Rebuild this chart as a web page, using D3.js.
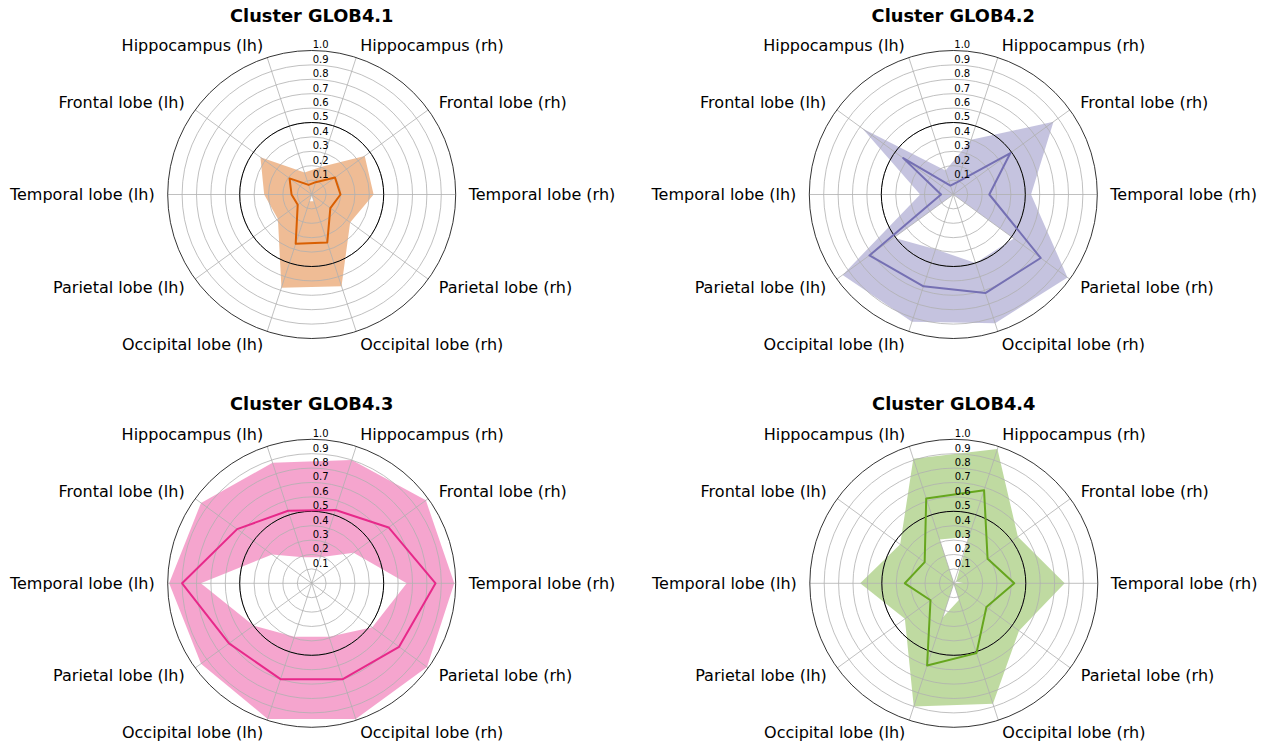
<!DOCTYPE html>
<html>
<head>
<meta charset="utf-8">
<script src="https://cdn.jsdelivr.net/npm/d3@7"></script>
<style>
  body { margin: 0; background: #fff; }
  text { font-family: "DejaVu Sans", sans-serif; fill: #000; }
</style>
</head>
<body>
<svg id="chart" width="1271" height="744"></svg>
<script>
// Brain regions, in counter-clockwise order starting at 3 o'clock
const regions = [
  "Temporal lobe (rh)", "Frontal lobe (rh)", "Hippocampus (rh)", "Hippocampus (lh)",
  "Frontal lobe (lh)", "Temporal lobe (lh)", "Parietal lobe (lh)", "Occipital lobe (lh)",
  "Occipital lobe (rh)", "Parietal lobe (rh)"
];
const radialTicks = [0.1, 0.2, 0.3, 0.4, 0.5, 0.6, 0.7, 0.8, 0.9, 1.0];
const clusterNames = ["Cluster GLOB4.1", "Cluster GLOB4.2", "Cluster GLOB4.3", "Cluster GLOB4.4"];
const clusterColors = ["#d95f02", "#7570b3", "#e7298a", "#66a61e"];

// Per-cluster median profile and lower / upper band
const median41 = [0.20, 0.20, 0.09, 0.07, 0.19, 0.14, 0.12, 0.36, 0.35, 0.16];
const upper41  = [0.43, 0.455, 0.20, 0.16, 0.44, 0.33, 0.29, 0.68, 0.67, 0.33];
const lower41  = [0, 0, 0, 0, 0, 0, 0, 0.05, 0.05, 0];

const median42 = [0.25, 0.49, 0.09, 0.065, 0.43, 0.085, 0.72, 0.67, 0.72, 0.75];
const upper42  = [0.54, 0.86, 0.40, 0.175, 0.78, 0.23, 0.95, 0.93, 0.94, 0.98];
const lower42  = [0, 0, 0, 0, 0, 0, 0.51, 0.40, 0.50, 0.52];

const median43 = [0.86, 0.66, 0.535, 0.53, 0.64, 0.90, 0.71, 0.70, 0.70, 0.75];
const upper43  = [0.99, 0.98, 0.90, 0.88, 0.95, 0.99, 0.95, 0.99, 0.99, 0.99];
const lower43  = [0.66, 0.36, 0.19, 0.19, 0.34, 0.77, 0.50, 0.39, 0.39, 0.52];

const median44 = [0.42, 0.29, 0.68, 0.62, 0.25, 0.34, 0.20, 0.60, 0.51, 0.28];
const upper44  = [0.77, 0.55, 0.98, 0.91, 0.46, 0.65, 0.42, 0.90, 0.88, 0.56];
const lower44  = [0.07, 0.02, 0.34, 0.32, 0, 0, 0, 0.25, 0.12, 0];

const medians = [median41, median42, median43, median44];
const uppers  = [upper41, upper42, upper43, upper44];
const lowers  = [lower41, lower42, lower43, lower44];

const svg = d3.select("#chart");
const R = 144;
const centers = [[311.7, 194.5], [953.3, 194.5], [311.7, 583.3], [953.8, 583.3]];

// index -> d3 radial angle (0 = up, clockwise); regions run counter-clockwise from 3 o'clock
const angle = d3.scaleLinear().domain([0, regions.length]).range([Math.PI / 2, Math.PI / 2 - 2 * Math.PI]);
const radius = d3.scaleLinear().domain([0, 1]).range([0, R]);

const radialLine = d3.lineRadial()
  .angle((d, i) => angle(i))
  .radius(d => radius(d))
  .curve(d3.curveLinearClosed);

clusterNames.forEach((name, k) => {
  const [cx, cy] = centers[k];
  const g = svg.append("g").attr("transform", `translate(${cx},${cy})`);
  const color = clusterColors[k];

  // band between lower and upper profile (inner ring cut out by even-odd rule)
  g.append("path")
    .attr("d", radialLine(uppers[k]) + radialLine(lowers[k]))
    .attr("fill", color)
    .attr("fill-opacity", 0.42)
    .attr("fill-rule", "evenodd")
    .attr("stroke", "none");

  // circular gridlines
  g.selectAll("circle.grid")
    .data(radialTicks.filter(t => t < 1))
    .join("circle")
    .attr("class", "grid")
    .attr("r", d => radius(d))
    .attr("fill", "none")
    .attr("stroke", "#b0b0b0")
    .attr("stroke-width", 0.8);

  // spokes
  g.selectAll("line.spoke")
    .data(regions)
    .join("line")
    .attr("class", "spoke")
    .attr("x1", 0).attr("y1", 0)
    .attr("x2", (d, i) => radius(1) * Math.sin(angle(i)))
    .attr("y2", (d, i) => -radius(1) * Math.cos(angle(i)))
    .attr("stroke", "#b0b0b0")
    .attr("stroke-width", 0.8);

  // reference circle at 0.5 and the outer frame
  g.append("circle").attr("r", radius(0.5))
    .attr("fill", "none").attr("stroke", "#000").attr("stroke-width", 1);
  g.append("circle").attr("r", radius(1))
    .attr("fill", "none").attr("stroke", "#000").attr("stroke-width", 0.8);

  // median profile
  g.append("path")
    .attr("d", radialLine(medians[k]))
    .attr("fill", "none")
    .attr("stroke", color)
    .attr("stroke-width", 2)
    .attr("stroke-linejoin", "round");

  // radial tick labels
  g.selectAll("text.rtick")
    .data(radialTicks)
    .join("text")
    .attr("class", "rtick")
    .attr("x", 1)
    .attr("y", d => -radius(d) - 2.2)
    .attr("font-size", 10)
    .text(d => d.toFixed(1));

  // region labels
  const lr = R + 13;
  g.selectAll("text.region")
    .data(regions)
    .join("text")
    .attr("class", "region")
    .attr("x", (d, i) => lr * Math.sin(angle(i)))
    .attr("y", (d, i) => -lr * Math.cos(angle(i)))
    .attr("dy", "0.36em")
    .attr("font-size", 16)
    .attr("text-anchor", (d, i) => {
      const s = Math.sin(angle(i));
      return s > 0.01 ? "start" : (s < -0.01 ? "end" : "middle");
    })
    .text(d => d);

  // title
  g.append("text")
    .attr("x", 0)
    .attr("y", -R - 29)
    .attr("text-anchor", "middle")
    .attr("font-size", 17.8)
    .attr("font-weight", "bold")
    .text(name);
});
</script>
</body>
</html>
